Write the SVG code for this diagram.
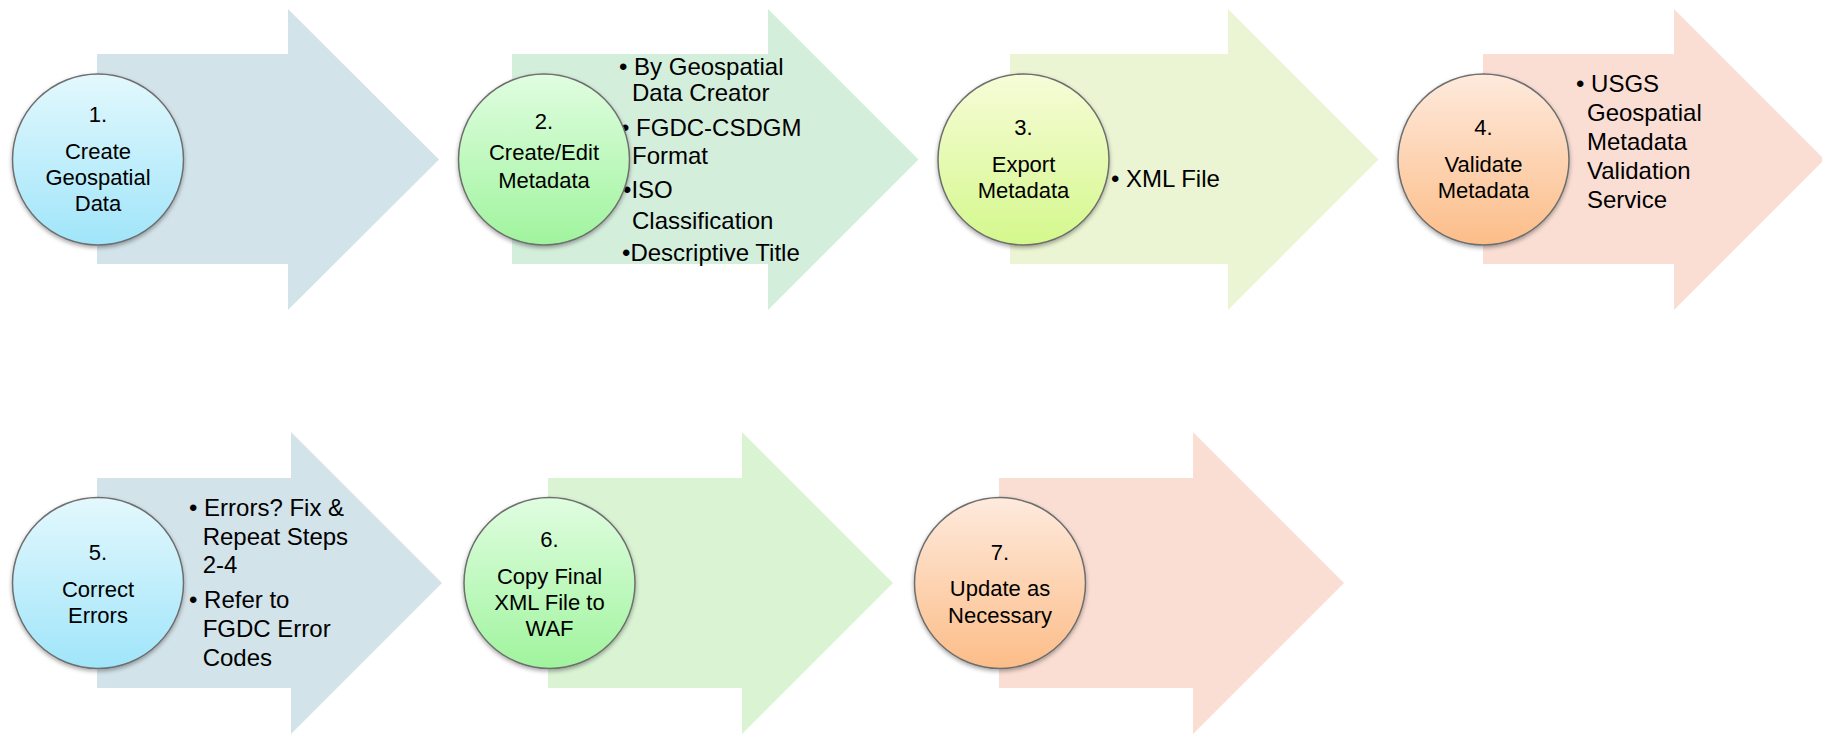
<svg xmlns="http://www.w3.org/2000/svg" width="1822" height="734" viewBox="0 0 1822 734">
<style>
  .t { font-family: "Liberation Sans", Arial, sans-serif; fill: #000; }
  .c { font-size: 22px; text-anchor: middle; }
  .b { font-size: 24px; }
  .circ { stroke: #6e6e6e; stroke-width: 1.5; filter: url(#sh); }
</style>
<defs>
  <filter id="sh" x="-20%" y="-20%" width="140%" height="140%">
    <feDropShadow dx="0" dy="2" stdDeviation="2" flood-color="#000" flood-opacity="0.35"/>
  </filter>
  <linearGradient id="gBlue" x1="0" y1="0" x2="0" y2="1">
    <stop offset="0" stop-color="#E3F8FD"/>
    <stop offset="1" stop-color="#A0E5FA"/>
  </linearGradient>
  <linearGradient id="gGreen" x1="0" y1="0" x2="0" y2="1">
    <stop offset="0" stop-color="#E0FDE0"/>
    <stop offset="1" stop-color="#A0F49E"/>
  </linearGradient>
  <linearGradient id="gLime" x1="0" y1="0" x2="0" y2="1">
    <stop offset="0" stop-color="#F7FCD8"/>
    <stop offset="1" stop-color="#D4F88C"/>
  </linearGradient>
  <linearGradient id="gOrange" x1="0" y1="0" x2="0" y2="1">
    <stop offset="0" stop-color="#FEEADD"/>
    <stop offset="1" stop-color="#FCBD88"/>
  </linearGradient>
</defs>

<g id="step1">
  <path d="M97,54 H288 V9 L439,159.5 L288,310 V264 H97 Z" fill="#D3E3EA"/>
  <circle class="circ" cx="98" cy="159.5" r="85.5" fill="url(#gBlue)"/>
  <text class="t c" x="98" y="122">1.</text>
  <text class="t c" x="98" y="159">Create</text>
  <text class="t c" x="98" y="185">Geospatial</text>
  <text class="t c" x="98" y="211">Data</text>
</g>

<g id="step2">
  <path d="M512,54 H768 V9 L918.5,159.5 L768,310 V264 H512 Z" fill="#D4EEDC"/>
  <text class="t b" x="619" y="75">• By Geospatial</text>
  <text class="t b" x="632" y="101">Data Creator</text>
  <text class="t b" x="621" y="136">• FGDC-CSDGM</text>
  <text class="t b" x="632" y="164">Format</text>
  <text class="t b" x="623" y="198">•ISO</text>
  <text class="t b" x="632" y="229">Classification</text>
  <text class="t b" x="622" y="261">•Descriptive Title</text>
  <circle class="circ" cx="544" cy="159.5" r="85.5" fill="url(#gGreen)"/>
  <text class="t c" x="544" y="129">2.</text>
  <text class="t c" x="544" y="160">Create/Edit</text>
  <text class="t c" x="544" y="188">Metadata</text>
</g>

<g id="step3">
  <path d="M1010,54 H1228 V9 L1378.5,159.5 L1228,310 V264 H1010 Z" fill="#EBF5D3"/>
  <text class="t b" x="1111" y="187">• XML File</text>
  <circle class="circ" cx="1023.5" cy="159.5" r="85.5" fill="url(#gLime)"/>
  <text class="t c" x="1023.5" y="135">3.</text>
  <text class="t c" x="1023.5" y="171.5">Export</text>
  <text class="t c" x="1023.5" y="198">Metadata</text>
</g>

<g id="step4">
  <path d="M1483,54 H1674 V9 L1824.5,159.5 L1674,310 V264 H1483 Z" fill="#FADDD3"/>
  <text class="t b" x="1576" y="91.7">• USGS</text>
  <text class="t b" x="1587" y="121">Geospatial</text>
  <text class="t b" x="1587" y="150">Metadata</text>
  <text class="t b" x="1587" y="179">Validation</text>
  <text class="t b" x="1587" y="207.7">Service</text>
  <circle class="circ" cx="1483.5" cy="159.5" r="85.5" fill="url(#gOrange)"/>
  <text class="t c" x="1483.5" y="135">4.</text>
  <text class="t c" x="1483.5" y="171.5">Validate</text>
  <text class="t c" x="1483.5" y="198">Metadata</text>
</g>

<g id="step5">
  <path d="M97,478 H291 V432 L442,583 L291,734 V688 H97 Z" fill="#D3E3EA"/>
  <text class="t b" x="189" y="515.7">• Errors? Fix &amp;</text>
  <text class="t b" x="202.7" y="545">Repeat Steps</text>
  <text class="t b" x="202.7" y="573.3">2-4</text>
  <text class="t b" x="189" y="608.3">• Refer to</text>
  <text class="t b" x="202.7" y="637.3">FGDC Error</text>
  <text class="t b" x="202.7" y="666">Codes</text>
  <circle class="circ" cx="98" cy="583" r="85.5" fill="url(#gBlue)"/>
  <text class="t c" x="98" y="560">5.</text>
  <text class="t c" x="98" y="596.7">Correct</text>
  <text class="t c" x="98" y="623.3">Errors</text>
</g>

<g id="step6">
  <path d="M548,478 H742 V432 L893,583 L742,734 V688 H548 Z" fill="#D9F3D3"/>
  <circle class="circ" cx="549.5" cy="583" r="85.5" fill="url(#gGreen)"/>
  <text class="t c" x="549.5" y="546.7">6.</text>
  <text class="t c" x="549.5" y="584">Copy Final</text>
  <text class="t c" x="549.5" y="610">XML File to</text>
  <text class="t c" x="549.5" y="636">WAF</text>
</g>

<g id="step7">
  <path d="M999,478 H1193 V432 L1344,583 L1193,734 V688 H999 Z" fill="#FADDD3"/>
  <circle class="circ" cx="1000" cy="583" r="85.5" fill="url(#gOrange)"/>
  <text class="t c" x="1000" y="560">7.</text>
  <text class="t c" x="1000" y="596">Update as</text>
  <text class="t c" x="1000" y="622.7">Necessary</text>
</g>

<g id="connectors"></g>
</svg>
